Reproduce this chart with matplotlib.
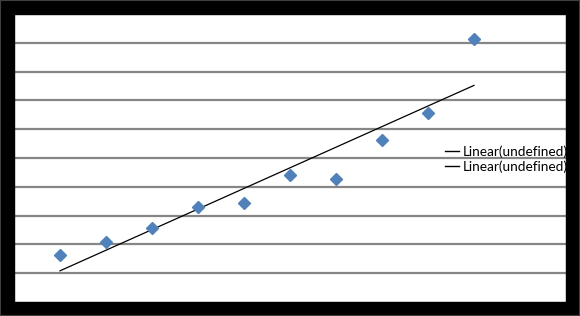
import numpy as np
import matplotlib
matplotlib.use("Agg")
import matplotlib.pyplot as plt
from matplotlib.patches import Rectangle

# values
x_vals = [1, 2, 3, 4, 5, 6, 7, 8, 9, 10]
y_vals = [1.63, 2.08, 2.57, 3.30, 3.44, 4.41, 4.27, 5.63, 6.56, 9.13]
legend_labels = ["Linear(undefined)", "Linear(undefined)"]

plt.rcParams["font.family"] = ["Lato", "DejaVu Sans"]

fig = plt.figure(figsize=(5.8, 3.16), dpi=100, facecolor="black")
ax = fig.add_axes([14 / 580, 14 / 316, 552 / 580, 288 / 316])
ax.set_facecolor("white")

x = np.array(x_vals, dtype=float)
y = np.array(y_vals)
slope, icpt = np.polyfit(x, y, 1)
fit_x = np.array([x.min(), x.max()])

ax.plot(x, y, linestyle="none", marker="D", ms=6.2, color="#4F81BD",
        markeredgecolor="#4F81BD", zorder=3)
ax.plot(fit_x, slope * fit_x + icpt, color="black", lw=0.9, zorder=2)

ax.set_xlim(0, 12)
ax.set_ylim(0, 10)
ax.set_yticks(np.arange(1, 10))
ax.set_xticks([])
ax.tick_params(left=False, labelleft=False)
ax.grid(axis="y", color="#868686", lw=1.6)
ax.set_axisbelow(True)
for s in ax.spines.values():
    s.set_visible(False)

handles = [plt.Line2D([], [], color="black", lw=1.0) for _ in legend_labels]
ax.legend(handles, legend_labels, loc="center left", bbox_to_anchor=(0.781, 0.497),
          frameon=False, fontsize=9.8, handlelength=1.0, handletextpad=0.3,
          labelspacing=0.2, borderpad=0, borderaxespad=0)

# black frame drawn over the axes edges
fig.patches.append(Rectangle((0, 0), 14 / 580, 1, transform=fig.transFigure,
                             color="black", zorder=5))
fig.patches.append(Rectangle((566 / 580, 0), 14 / 580, 1, transform=fig.transFigure,
                             color="black", zorder=5))
fig.patches.append(Rectangle((0, 0), 1, 14 / 316, transform=fig.transFigure,
                             color="black", zorder=5))
fig.patches.append(Rectangle((0, 302 / 316), 1, 14 / 316, transform=fig.transFigure,
                             color="black", zorder=5))
fig.patches.append(Rectangle((0, 0), 1, 1, transform=fig.transFigure, fill=False,
                             edgecolor="#404040", lw=1.5, zorder=6))

fig.savefig("out.png", dpi=100, facecolor="black")
